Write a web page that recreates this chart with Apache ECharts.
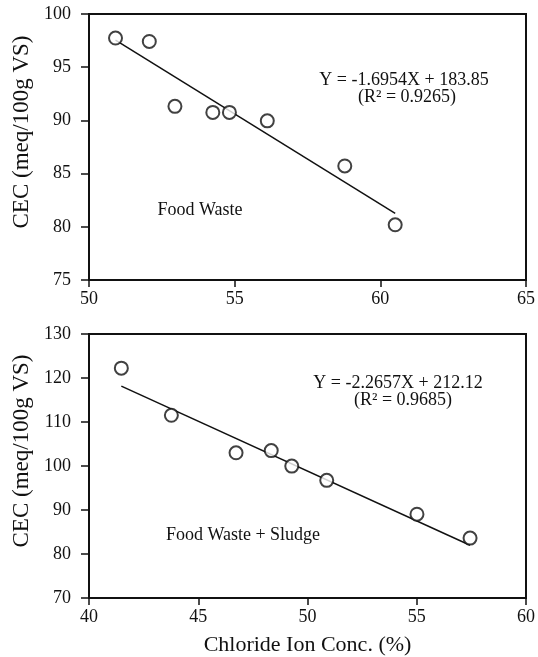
<!DOCTYPE html>
<html><head><meta charset="utf-8">
<script src="https://cdn.jsdelivr.net/npm/echarts@6/dist/echarts.min.js"></script>
<style>html,body{margin:0;padding:0;background:#fff}#c{width:538px;height:657px}</style>
</head><body><div id="c"></div>
<script>
// Top panel: Food Waste
const fwX = [50.91, 52.07, 52.95, 54.25, 54.82, 56.12, 58.78, 60.51];
const fwY = [97.74, 97.42, 91.32, 90.75, 90.75, 89.96, 85.72, 80.19];
const fwSlope = -1.6954, fwIntercept = 183.85;
const fwEq = 'Y = -1.6954X + 183.85';
const fwR2 = '(R² = 0.9265)';
const fwLabel = 'Food Waste';
const fwXTicks = [50, 55, 60, 65];
const fwYTicks = [75, 80, 85, 90, 95, 100];

// Bottom panel: Food Waste + Sludge
const fsX = [41.48, 43.77, 46.73, 48.34, 49.28, 50.88, 55.01, 57.44];
const fsY = [122.24, 111.52, 103.0, 103.5, 99.98, 96.74, 89.05, 83.62];
const fsSlope = -2.2657, fsIntercept = 212.12;
const fsEq = 'Y = -2.2657X + 212.12';
const fsR2 = '(R² = 0.9685)';
const fsLabel = 'Food Waste + Sludge';
const fsXTicks = [40, 45, 50, 55, 60];
const fsYTicks = [70, 80, 90, 100, 110, 120, 130];

const yTitle = 'CEC (meq/100g VS)';
const xTitle = 'Chloride Ion Conc. (%)';

const FONT = '"Liberation Serif", "Times New Roman", serif';
const INK = '#111';

function fitLine(xs, slope, intercept) {
  const lo = Math.min(...xs), hi = Math.max(...xs);
  return [[lo, slope * lo + intercept], [hi, slope * hi + intercept]];
}

function xAxisCfg(idx, ticks, withName) {
  return {
    type: 'value', gridIndex: idx,
    min: ticks[0], max: ticks[ticks.length - 1], interval: ticks[1] - ticks[0],
    axisLine: {show: true, onZero: false, lineStyle: {color: INK, width: 2}},
    axisTick: {show: true, length: 7, lineStyle: {color: INK, width: 1.5}},
    axisLabel: {color: INK, fontFamily: FONT, fontSize: 18, margin: 10},
    splitLine: {show: false},
    name: withName ? xTitle : '',
    nameLocation: 'middle', nameGap: 36,
    nameTextStyle: {color: INK, fontFamily: FONT, fontSize: 22}
  };
}
function yAxisCfg(idx, ticks) {
  return {
    type: 'value', gridIndex: idx,
    min: ticks[0], max: ticks[ticks.length - 1], interval: ticks[1] - ticks[0],
    axisLine: {show: true, onZero: false, lineStyle: {color: INK, width: 2}},
    axisTick: {show: true, length: 8, lineStyle: {color: INK, width: 1.5}},
    axisLabel: {color: INK, fontFamily: FONT, fontSize: 18, margin: 18},
    splitLine: {show: false}
  };
}
function scatter(idx, xs, ys) {
  return {
    type: 'scatter', xAxisIndex: idx, yAxisIndex: idx,
    data: xs.map((x, i) => [x, ys[i]]),
    symbol: 'circle', symbolSize: 13,
    itemStyle: {color: '#fff', borderColor: INK, borderWidth: 2},
    z: 5
  };
}
function line(idx, data) {
  return {
    type: 'line', xAxisIndex: idx, yAxisIndex: idx, data: data,
    showSymbol: false, lineStyle: {color: INK, width: 1.5}, z: 3
  };
}
function txt(x, y, s, size, rot) {
  return {
    type: 'text', x: x, y: y, rotation: rot || 0,
    style: {text: s, fill: INK, font: size + 'px ' + FONT, textAlign: 'center', textVerticalAlign: 'middle'}
  };
}

const chart = echarts.init(document.getElementById('c'));
chart.setOption({
  animation: false,
  backgroundColor: '#fff',
  grid: [
    {left: 89, right: 11, top: 14, height: 266, show: true, borderColor: INK, borderWidth: 2},
    {left: 89, right: 11, top: 334, height: 264, show: true, borderColor: INK, borderWidth: 2}
  ],
  xAxis: [xAxisCfg(0, fwXTicks, false), xAxisCfg(1, fsXTicks, true)],
  yAxis: [yAxisCfg(0, fwYTicks), yAxisCfg(1, fsYTicks)],
  series: [
    line(0, fitLine(fwX, fwSlope, fwIntercept)),
    scatter(0, fwX, fwY),
    line(1, fitLine(fsX, fsSlope, fsIntercept)),
    scatter(1, fsX, fsY)
  ],
  graphic: [
    txt(404, 80, fwEq, 18),
    txt(407, 97, fwR2, 18),
    txt(200, 210, fwLabel, 18),
    txt(398, 383, fsEq, 18),
    txt(403, 400, fsR2, 18),
    txt(243, 535, fsLabel, 18),
    txt(22, 132, yTitle, 23, Math.PI / 2),
    txt(22, 451, yTitle, 23, Math.PI / 2)
  ]
});
</script></body></html>
